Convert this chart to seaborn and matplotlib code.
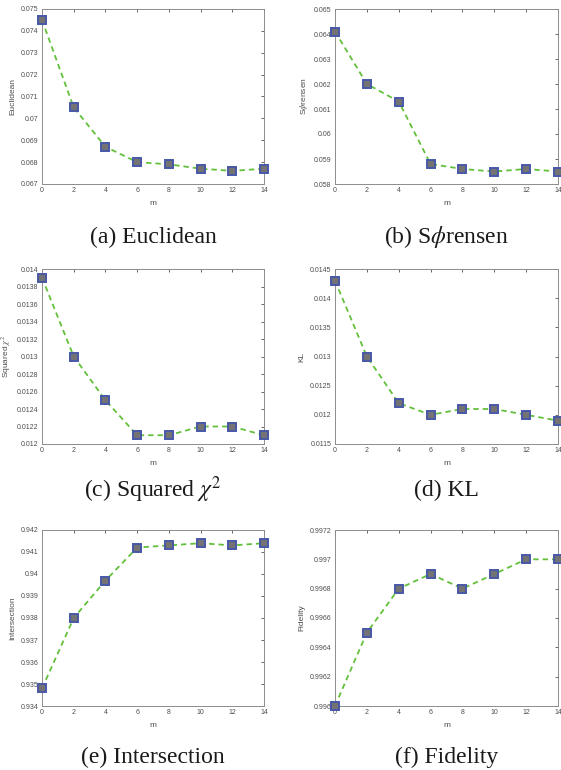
import numpy as np
import pandas as pd
import seaborn as sns
import matplotlib.pyplot as plt
from matplotlib.ticker import FuncFormatter, MultipleLocator

# ------- data -------
m = [0, 2, 4, 6, 8, 10, 12, 14]

euclidean = [0.0745, 0.0705, 0.0687, 0.0680, 0.0679, 0.0677, 0.0676, 0.0677]
sorensen = [0.0641, 0.0620, 0.0613, 0.0588, 0.0586, 0.0585, 0.0586, 0.0585]
squared_chi2 = [0.0139, 0.0130, 0.0125, 0.0121, 0.0121, 0.0122, 0.0122, 0.0121]
kl = [0.0143, 0.0130, 0.0122, 0.0120, 0.0121, 0.0121, 0.0120, 0.0119]
intersection = [0.9348, 0.9380, 0.9397, 0.9412, 0.9413, 0.9414, 0.9413, 0.9414]
fidelity = [0.9960, 0.9965, 0.9968, 0.9969, 0.9968, 0.9969, 0.9970, 0.9970]

ylabels = ["Euclidean", r"S$\phi$rensen", r"Squared $\chi^2$", "KL", "Intersection", "Fidelity"]
captions = ["(a) Euclidean", r"(b) S$\phi$rensen", r"(c) Squared $\chi^2$",
            "(d) KL", "(e) Intersection", "(f) Fidelity"]
ylims = [(0.067, 0.075), (0.058, 0.065), (0.012, 0.014),
         (0.0115, 0.0145), (0.934, 0.942), (0.9960, 0.9972)]
ysteps = [0.001, 0.001, 0.0002, 0.0005, 0.001, 0.0002]
series = [euclidean, sorensen, squared_chi2, kl, intersection, fidelity]

sns.set_style("white")
plt.rcParams['font.family'] = ['Liberation Sans', 'DejaVu Sans']
plt.rcParams['mathtext.fontset'] = 'stix'

W, H = 561, 770
fig = plt.figure(figsize=(W / 100, H / 100), dpi=100)

# axes boxes in pixels: left, top, right, bottom
col_x = [(42, 264), (335, 558)]
row_y = [(9, 184), (269, 444), (530, 706)]
caption_y = [237, 490, 757]

gray = "#4d4d4d"
for i, vals in enumerate(series):
    r, c = divmod(i, 2)
    x0, x1 = col_x[c]
    y0, y1 = row_y[r]
    ax = fig.add_axes([x0 / W, 1 - y1 / H, (x1 - x0) / W, (y1 - y0) / H])
    df = pd.DataFrame({"m": m, "v": vals})
    sns.lineplot(data=df, x="m", y="v", ax=ax, color="#62c03a", linestyle=(0, (3, 2.2)),
                 linewidth=1.3, marker="s", markersize=6, markerfacecolor="#737373",
                 markeredgecolor="#4858a8", markeredgewidth=1.4, clip_on=False, zorder=3)
    ax.set_xlim(0, 14)
    ax.set_ylim(*ylims[i])
    ax.xaxis.set_major_locator(MultipleLocator(2))
    ax.yaxis.set_major_locator(MultipleLocator(ysteps[i]))
    ax.yaxis.set_major_formatter(FuncFormatter(lambda v, p: "{:.6g}".format(v)))
    ax.tick_params(direction="in", length=2.5, width=0.6, labelsize=5, colors=gray,
                   top=True, right=True, pad=2.5)
    ax.tick_params(axis="both", labelcolor=gray)
    for s in ax.spines.values():
        s.set_color("#8c8c8c")
        s.set_linewidth(0.7)
    ax.set_xlabel("m", fontsize=6, color=gray, labelpad=4)
    ax.set_ylabel(ylabels[i], fontsize=6, color=gray, labelpad=3)
    fig.text((x0 + x1) / 2 / W, 1 - caption_y[r] / H, captions[i], ha="center", va="center",
             fontsize=17, family="Liberation Serif", color="#1a1a1a")

fig.savefig("out.png", dpi=100)
